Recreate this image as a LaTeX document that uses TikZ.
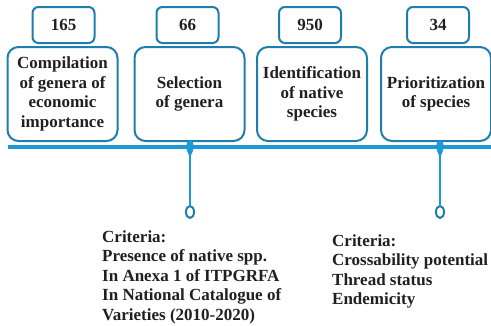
\documentclass[tikz,border=0pt]{standalone}
\usepackage{fontspec}
\setmainfont{Liberation Serif}
\usetikzlibrary{positioning,shapes.geometric}
\definecolor{boxblue}{HTML}{1F7DAE}
\definecolor{lineblue}{HTML}{1C9AD8}
\definecolor{txtgray}{HTML}{231F20}

\tikzset{
    x=1pt, y=-1pt,
    every node/.style={inner sep=0pt, text=txtgray, font=\bfseries\fontsize{17}{19.5}\selectfont},
    stepbox/.style={draw=boxblue, line width=2pt, rounded corners=11pt, minimum width=110pt, minimum height=94pt, align=center},
    countbox/.style={draw=boxblue, line width=2pt, rounded corners=6pt, minimum width=62pt, minimum height=36pt, fill=white},
    timeline/.style={draw=lineblue, line width=3.5pt},
    stem/.style={draw=lineblue, line width=2.2pt},
    ring/.style={ellipse, draw=boxblue, line width=2pt, minimum width=8pt, minimum height=12pt, fill=white},
    criteria/.style={align=left, anchor=north west},
}

\begin{document}
\begin{tikzpicture}
    \useasboundingbox (0,0) rectangle (491,325);
    % steps
    \node [stepbox] (compile) at (62.5,94) {Compilation\\of genera of\\economic\\importance};
    \node [stepbox] (select) at (189.5,94) {Selection\\of genera};
    \node [stepbox] (identify) at (312,94) {Identification\\of native\\species};
    \node [stepbox] (prior) at (436,94) {Prioritization\\of species};
    % counts
    \node [countbox, above=2pt of compile.north, xshift=1pt, anchor=south] (n-compile) {165};
    \node [countbox, above=2pt of select.north, xshift=-2pt, anchor=south] (n-select) {66};
    \node [countbox, above=2pt of identify.north, xshift=-2pt, anchor=south] (n-identify) {950};
    \node [countbox, above=2pt of prior.north, xshift=2pt, anchor=south] (n-prior) {34};
    % timeline
    \coordinate (line-start) at (8,147);
    \coordinate (line-end) at (491,147);
    \draw [timeline] (line-start) -- (line-end);
    % pins
    \foreach \name/\px in {pin1/190, pin2/440} {
        \coordinate (\name) at (\px,147);
        \node [ring] (\name-ring) at (\px,212) {};
        \draw [stem] (\name) -- (\name-ring.north);
        \fill [lineblue] (\px,140) .. controls (\px+5,141) and (\px+5,149) .. (\px,157)
            .. controls (\px-5,149) and (\px-5,141) .. (\px,140);
    }
    % criteria
    \node [criteria] (crit1) at (102,230) {Criteria:\\Presence of native spp.\\In Anexa 1 of ITPGRFA\\In National Catalogue of\\Varieties (2010-2020)};
    \node [criteria] (crit2) at (332,234) {Criteria:\\Crossability potential\\Thread status\\Endemicity};
\end{tikzpicture}
\end{document}
